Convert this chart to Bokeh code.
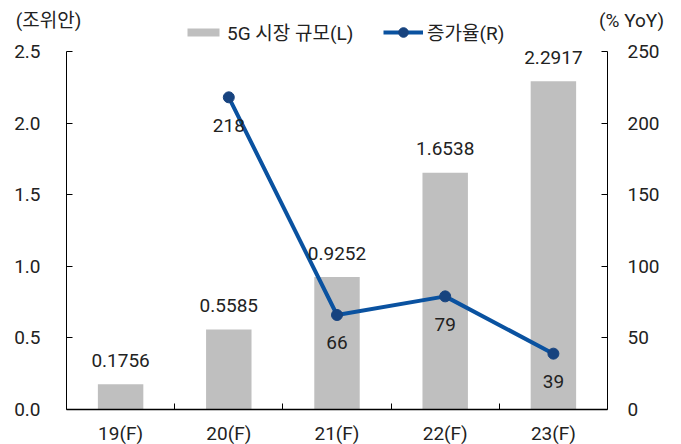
from bokeh.plotting import figure
from bokeh.models import (Range1d, LinearAxis, FixedTicker, Legend, LegendItem,
                          Label, ColumnDataSource, LabelSet)
from bokeh.core.properties import value
from bokeh.embed import file_html
from bokeh.resources import INLINE

categories = ["19(F)", "20(F)", "21(F)", "22(F)", "23(F)"]
market = [0.1756, 0.5585, 0.9252, 1.6538, 2.2917]
market_text = ["0.1756", "0.5585", "0.9252", "1.6538", "2.2917"]
growth_cats = ["20(F)", "21(F)", "22(F)", "23(F)"]
growth = [218, 66, 79, 39]
growth_text = ["218", "66", "79", "39"]
left_ticks = [0.0, 0.5, 1.0, 1.5, 2.0, 2.5]
right_ticks = [0, 50, 100, 150, 200, 250]

FONT = "Roboto, Noto Sans CJK KR"
FS = "19px"
TXT = "#222222"
BAR = "#BFBFBF"
LINE = "#0A52A0"
MARK = "#17437F"

W, H = 681, 444
# plot-area box (pixels from top-left of canvas)
FL, FR, FT, FB = 66, 607, 51, 409
n = len(categories)
xpx = (FR - FL) / n
ypx = (FB - FT) / 2.5
x0 = -0.5 - FL / xpx
x1 = n - 0.5 + (W - FR) / xpx
y0 = -(H - FB) / ypx
y1 = 2.5 + FT / ypx

xs = list(range(n))
gx = [categories.index(c) for c in growth_cats]

p = figure(width=W, height=H, output_backend="svg", toolbar_location=None,
           x_range=Range1d(x0, x1), y_range=Range1d(y0, y1),
           min_border=0, min_border_left=0, min_border_right=0,
           min_border_top=0, min_border_bottom=0)
p.extra_y_ranges = {"r": Range1d(y0 * 100, y1 * 100)}
p.outline_line_color = None
p.border_fill_color = "white"
p.xgrid.visible = False
p.ygrid.visible = False

bsrc = ColumnDataSource(dict(x=xs, top=market, t=market_text))
bars = p.vbar(x="x", top="top", width=0.42, source=bsrc, fill_color=BAR, line_color=None)
p.add_layout(LabelSet(x="x", y="top", text="t", source=bsrc, text_align="center",
                      text_baseline="middle", y_offset=24, text_font=value(FONT),
                      text_font_size=value(FS), text_color=TXT))

gsrc = ColumnDataSource(dict(x=gx, y=growth, t=growth_text))
ln = p.line("x", "y", source=gsrc, y_range_name="r", line_color=LINE, line_width=4)
mk = p.scatter("x", "y", source=gsrc, y_range_name="r", size=11, fill_color=MARK,
               line_color=MARK)
p.add_layout(LabelSet(x="x", y="y", text="t", source=gsrc, y_range_name="r",
                      text_align="center", text_baseline="middle", y_offset=-28,
                      text_font=value(FONT), text_font_size=value(FS), text_color=TXT))

# x axis
xa = p.xaxis[0]
xa.fixed_location = 0
xa.bounds = (-0.5, n - 0.5)
xa.ticker = FixedTicker(ticks=xs, minor_ticks=[i + 0.5 for i in xs[:-1]])
xa.major_label_overrides = {i: c for i, c in zip(xs, categories)}
xa.major_tick_in = 0
xa.major_tick_out = 0
xa.minor_tick_in = 6
xa.minor_tick_out = 0
xa.minor_tick_line_color = "black"
xa.axis_line_color = "black"
xa.axis_line_width = 1.5
xa.major_label_standoff = 12
xa.major_label_text_font = FONT
xa.major_label_text_font_size = FS
xa.major_label_text_color = TXT

# left axis
ya = p.yaxis[0]
ya.fixed_location = -0.5
ya.bounds = (0, 2.5)
ya.ticker = FixedTicker(ticks=left_ticks)
ya.major_label_overrides = {v: f"{v:.1f}" for v in left_ticks}
ya.major_tick_in = 6
ya.major_tick_out = 0
ya.minor_tick_line_color = None
ya.major_label_standoff = 26
ya.major_label_text_font = FONT
ya.major_label_text_font_size = FS
ya.major_label_text_color = TXT
ya.axis_line_color = "black"

ra = LinearAxis(y_range_name="r", ticker=FixedTicker(ticks=right_ticks))
ra.fixed_location = n - 0.5
ra.bounds = (0, 250)
ra.major_tick_in = 6
ra.major_tick_out = 0
ra.minor_tick_line_color = None
ra.major_label_standoff = 20
ra.major_label_text_font = FONT
ra.major_label_text_font_size = FS
ra.major_label_text_color = TXT
ra.axis_line_color = "black"
p.add_layout(ra, "right")

# axis titles
p.add_layout(Label(x=48, y=H - 20, x_units="screen", y_units="screen", text="(조위안)",
                   text_align="center", text_baseline="middle", text_font=FONT,
                   text_font_size=FS, text_color=TXT))
p.add_layout(Label(x=631, y=H - 20, x_units="screen", y_units="screen", text="(% YoY)",
                   text_align="center", text_baseline="middle", text_font=FONT,
                   text_font_size=FS, text_color=TXT))

common = dict(orientation="horizontal", glyph_width=40, label_standoff=4,
              padding=0, margin=0, border_line_color=None, background_fill_alpha=0,
              label_text_font=FONT, label_text_font_size=FS, label_text_color=TXT)
leg1 = Legend(items=[LegendItem(label="5G 시장 규모(L)", renderers=[bars])],
              location=(183, H - 45), glyph_height=10, **common)
leg2 = Legend(items=[LegendItem(label="증가율(R)", renderers=[ln, mk])],
              location=(383, H - 45), glyph_height=24, **common)
p.add_layout(leg1, "center")
p.add_layout(leg2, "center")

open("out.html", "w").write(file_html(p, INLINE))
